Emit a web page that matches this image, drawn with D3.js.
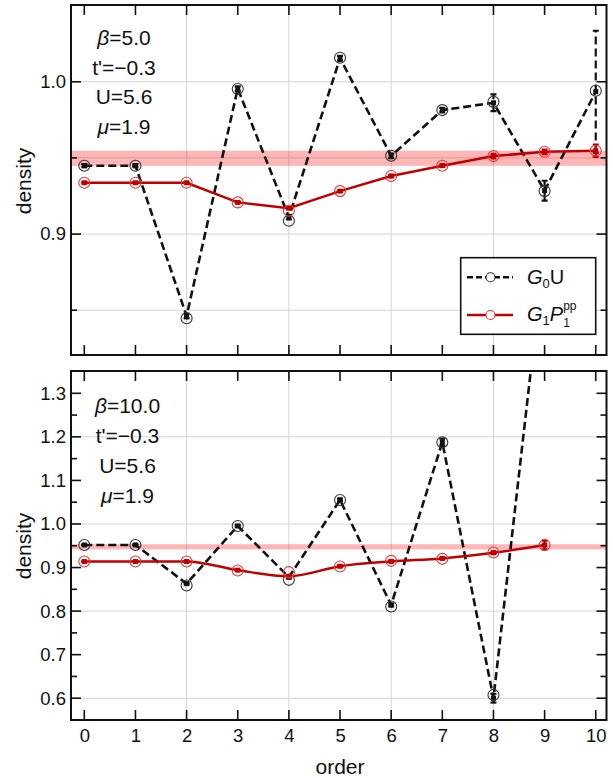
<!DOCTYPE html>
<html>
<head>
<meta charset="utf-8">
<script src="https://cdn.jsdelivr.net/npm/d3@7/dist/d3.min.js"></script>
<style>
  body { margin: 0; background: #fff; }
  text { font-family: "Liberation Sans", Arial, Helvetica, sans-serif; fill: #111; }
</style>
</head>
<body>
<svg id="chart" width="613" height="778"></svg>
<script>
// expansion order (x axis)
var orders = [0, 1, 2, 3, 4, 5, 6, 7, 8, 9, 10];
var xGrid = [2, 4, 6, 8];

// beta = 5.0 panel
var g0uCircTop = [0.9449, 0.9449, 0.8447, 0.9952, 0.9087, 1.0158, 0.9514, 0.9814, 0.9868, 0.9282, 0.9941];
var g0uLineTop = [0.9449, 0.9449, 0.8462, 0.9955, 0.9112, 1.0155, 0.9514, 0.9814, 0.9862, 0.9285, 0.9935];
var g0uErrTop  = [0.001, 0.001, 0.0015, 0.0015, 0.0015, 0.0015, 0.0015, 0.0015, 0.0055, 0.0065, 0.040];
var g1pCircTop = [0.9337, 0.9337, 0.9337, 0.9208, 0.9153, 0.9282, 0.9381, 0.9449, 0.9512, 0.9540, 0.9547];
var g1pLineTop = [0.9337, 0.9337, 0.9337, 0.9208, 0.9170, 0.9282, 0.9381, 0.9449, 0.9512, 0.9540, 0.9547];
var g1pErrTop  = [0.0005, 0.0005, 0.0005, 0.0005, 0.0005, 0.0005, 0.0008, 0.0008, 0.0015, 0.0015, 0.0040];
var bandTop = [0.9448, 0.9547];
var yTicksTop = [0.85, 0.9, 0.95, 1.0];
var yLabelsTop = [0.9, 1.0];
var yGridTop = [0.85, 0.9, 0.95, 1.0];
var paramsTop = [["β", "=5.0"], ["", "t'=−0.3"], ["", "U=5.6"], ["μ", "=1.9"]];

// beta = 10.0 panel
var g0uCircBot = [0.9518, 0.9518, 0.8587, 0.9954, 0.8718, 1.0551, 0.8105, 1.1878, 0.6076, 1.63];
var g0uLineBot = [0.9518, 0.9518, 0.8630, 0.9954, 0.8780, 1.0551, 0.8140, 1.1878, 0.6000, 1.63];
var g0uErrBot  = [0.001, 0.001, 0.002, 0.002, 0.003, 0.003, 0.003, 0.008, 0.010, 0.05];
var g1pCircBot = [0.9138, 0.9138, 0.9138, 0.8931, 0.8894, 0.9023, 0.9154, 0.9200, 0.9344, 0.9518];
var g1pLineBot = [0.9138, 0.9138, 0.9138, 0.8940, 0.8800, 0.9030, 0.9140, 0.9210, 0.9340, 0.9518];
var g1pErrBot  = [0.001, 0.001, 0.001, 0.001, 0.002, 0.002, 0.002, 0.002, 0.003, 0.010];
var bandBot = [0.9415, 0.9535];
var yTicksBot = [0.55, 0.6, 0.65, 0.7, 0.75, 0.8, 0.85, 0.9, 0.95, 1.0, 1.05, 1.1, 1.15, 1.2, 1.25, 1.3];
var yLabelsBot = [0.6, 0.7, 0.8, 0.9, 1.0, 1.1, 1.2, 1.3];
var yGridBot = [0.6, 0.8, 1.0, 1.2];
var paramsBot = [["β", "=10.0"], ["", "t'=−0.3"], ["", "U=5.6"], ["μ", "=1.9"]];

var RED = "#c00000", RED_CIRC = "#e23a3a", BLACK = "#111";

var svg = d3.select("#chart");
var left = 71, right = 606.5;
var x = d3.scaleLinear().domain([-0.26, 10.21]).range([left, right]);

function series(vals, errs) {
  var out = [];
  for (var i = 0; i < vals.length; i++) out.push({x: orders[i], v: vals[i], e: errs ? errs[i] : 0});
  return out;
}

function drawPanel(o) {
  var y = d3.scaleLinear().domain(o.yDomain).range([o.bottom, o.top]);
  var g = svg.append("g");
  var w = right - left, h = o.bottom - o.top;

  var clipId = "clip" + o.id;
  svg.append("clipPath").attr("id", clipId)
    .append("rect").attr("x", left).attr("y", o.top).attr("width", w).attr("height", h);

  // grid
  g.selectAll(".gx").data(xGrid).enter().append("line")
    .attr("x1", d => x(d)).attr("x2", d => x(d)).attr("y1", o.top).attr("y2", o.bottom)
    .attr("stroke", "#d4d4d4").attr("stroke-width", 1);
  g.selectAll(".gy").data(o.yGrid).enter().append("line")
    .attr("x1", left).attr("x2", right).attr("y1", d => y(d)).attr("y2", d => y(d))
    .attr("stroke", "#d4d4d4").attr("stroke-width", 1);

  var plot = g.append("g").attr("clip-path", "url(#" + clipId + ")");

  // reference band
  plot.append("rect")
    .attr("x", left).attr("width", w)
    .attr("y", y(o.band[1])).attr("height", y(o.band[0]) - y(o.band[1]))
    .attr("fill", "#ff2020").attr("fill-opacity", 0.33);

  function drawSeries(line, circ, color, circColor, dash, curve) {
    var path = d3.line().x(d => x(d.x)).y(d => y(d.v)).curve(curve || d3.curveLinear);
    plot.append("path").datum(line)
      .attr("d", path).attr("fill", "none")
      .attr("stroke", color).attr("stroke-width", dash ? 2.6 : 2.5)
      .attr("stroke-dasharray", dash || null);
    // error bars
    var eb = plot.append("g").attr("stroke", color).attr("stroke-width", 2.2)
      .attr("stroke-dasharray", dash || null);
    line.forEach(function(d) {
      eb.append("line").attr("x1", x(d.x)).attr("x2", x(d.x))
        .attr("y1", y(d.v - d.e)).attr("y2", y(d.v + d.e));
      [d.v - d.e, d.v + d.e].forEach(function(c) {
        eb.append("line").attr("x1", x(d.x) - 3).attr("x2", x(d.x) + 3)
          .attr("y1", y(c)).attr("y2", y(c)).attr("stroke-dasharray", null);
      });
    });
    plot.selectAll(null).data(line).enter().append("rect")
      .attr("x", d => x(d.x) - 2.5).attr("y", d => y(d.v) - 2.5)
      .attr("width", 5).attr("height", 5).attr("fill", color);
    plot.selectAll(null).data(circ).enter().append("circle")
      .attr("cx", d => x(d.x)).attr("cy", d => y(d.v)).attr("r", 5.5)
      .attr("fill", "none").attr("stroke", circColor).attr("stroke-width", 1.1);
  }

  drawSeries(series(o.g0uLine, o.g0uErr), series(o.g0uCirc), BLACK, "#333", "8,4");
  drawSeries(series(o.g1pLine, o.g1pErr), series(o.g1pCirc), RED, RED_CIRC, null, o.redCurve);

  // ticks (inward) on all four sides
  var tk = g.append("g").attr("stroke", "#111").attr("stroke-width", 1.6);
  orders.forEach(function(d) {
    tk.append("line").attr("x1", x(d)).attr("x2", x(d)).attr("y1", o.bottom).attr("y2", o.bottom - 10);
    tk.append("line").attr("x1", x(d)).attr("x2", x(d)).attr("y1", o.top).attr("y2", o.top + 10);
  });
  o.yTicks.forEach(function(d) {
    var len = o.yLabels.some(l => Math.abs(l - d) < 1e-9) ? 10 : 6;
    tk.append("line").attr("x1", left).attr("x2", left + len).attr("y1", y(d)).attr("y2", y(d));
    tk.append("line").attr("x1", right).attr("x2", right - len).attr("y1", y(d)).attr("y2", y(d));
  });

  // y labels via d3 axis
  var ax = g.append("g").attr("transform", "translate(" + left + ",0)")
    .call(d3.axisLeft(y).tickValues(o.yLabels).tickFormat(d3.format(".1f")).tickSize(0).tickPadding(5));
  ax.select(".domain").remove();
  ax.selectAll("text").attr("font-size", 18.5).attr("fill", "#111")
    .style("font-family", '"Liberation Sans", Arial, sans-serif');

  if (o.xLabels) {
    var axx = g.append("g").attr("transform", "translate(0," + o.bottom + ")")
      .call(d3.axisBottom(x).tickValues(orders).tickFormat(d3.format("d")).tickSize(0).tickPadding(9));
    axx.select(".domain").remove();
    axx.selectAll("text").attr("font-size", 18.5).attr("fill", "#111")
      .style("font-family", '"Liberation Sans", Arial, sans-serif');
  }

  // frame
  g.append("rect").attr("x", left).attr("y", o.top).attr("width", w).attr("height", h)
    .attr("fill", "none").attr("stroke", "#111").attr("stroke-width", 2);

  // y title
  g.append("text")
    .attr("transform", "translate(31," + o.titleY + ") rotate(-90)")
    .attr("text-anchor", "middle").attr("font-size", 21).text("density");

  // parameters
  o.params.forEach(function(p, i) {
    var t = g.append("text").attr("x", o.paramX).attr("y", o.paramY[i])
      .attr("text-anchor", "middle").attr("font-size", 21);
    if (p[0]) t.append("tspan").attr("font-style", "italic").text(p[0]);
    t.append("tspan").text(p[1]);
  });
  return y;
}

drawPanel({
  id: "T", top: 5, bottom: 355, yDomain: [0.8206, 1.0504],
  g0uCirc: g0uCircTop, g0uLine: g0uLineTop, g0uErr: g0uErrTop,
  g1pCirc: g1pCircTop, g1pLine: g1pLineTop, g1pErr: g1pErrTop,
  band: bandTop, yTicks: yTicksTop, yLabels: yLabelsTop, yGrid: yGridTop,
  params: paramsTop, paramX: 124, paramY: [45, 74.5, 104, 133.5],
  titleY: 181, xLabels: false
});

drawPanel({
  id: "B", top: 371, bottom: 720, yDomain: [0.550, 1.3512],
  g0uCirc: g0uCircBot, g0uLine: g0uLineBot, g0uErr: g0uErrBot,
  g1pCirc: g1pCircBot, g1pLine: g1pLineBot, g1pErr: g1pErrBot,
  band: bandBot, yTicks: yTicksBot, yLabels: yLabelsBot, yGrid: yGridBot,
  params: paramsBot, paramX: 127.5, paramY: [413, 443, 473, 503],
  titleY: 546, xLabels: true, redCurve: d3.curveMonotoneX
});

svg.append("text").attr("x", 340).attr("y", 774).attr("text-anchor", "middle")
  .attr("font-size", 21).text("order");

// legend
var lg = svg.append("g");
lg.append("rect").attr("x", 460.7).attr("y", 257.7).attr("width", 135).attr("height", 76.6)
  .attr("fill", "#fff").attr("stroke", "#111").attr("stroke-width", 1.6);
var legendRows = [
  {y: 277.3, color: BLACK, circ: "#333", dash: "6,3"},
  {y: 315, color: RED, circ: RED_CIRC, dash: null}
];
legendRows.forEach(function(r) {
  lg.append("line").attr("x1", 467).attr("x2", 513).attr("y1", r.y).attr("y2", r.y)
    .attr("stroke", r.color).attr("stroke-width", r.dash ? 2.4 : 2.5).attr("stroke-dasharray", r.dash);
  lg.append("circle").attr("cx", 490.5).attr("cy", r.y).attr("r", 4.5)
    .attr("fill", "#fff").attr("stroke", r.circ).attr("stroke-width", 1.1);
});
var t1 = lg.append("text").attr("x", 527).attr("y", 283.5).attr("font-size", 20);
t1.append("tspan").attr("font-style", "italic").text("G");
t1.append("tspan").attr("font-size", 13).attr("dy", 4).text("0");
t1.append("tspan").attr("dy", -4).text("U");

var t2 = lg.append("text").attr("x", 527).attr("y", 321).attr("font-size", 20);
t2.append("tspan").attr("font-style", "italic").text("G");
t2.append("tspan").attr("font-size", 13).attr("dy", 4).text("1");
t2.append("tspan").attr("font-style", "italic").attr("dy", -4).text("P");
var px = 527 + t2.node().getComputedTextLength();
lg.append("text").attr("x", px).attr("y", 310).attr("font-size", 12).text("pp");
lg.append("text").attr("x", px).attr("y", 326.5).attr("font-size", 12).text("1");
</script>
</body>
</html>
